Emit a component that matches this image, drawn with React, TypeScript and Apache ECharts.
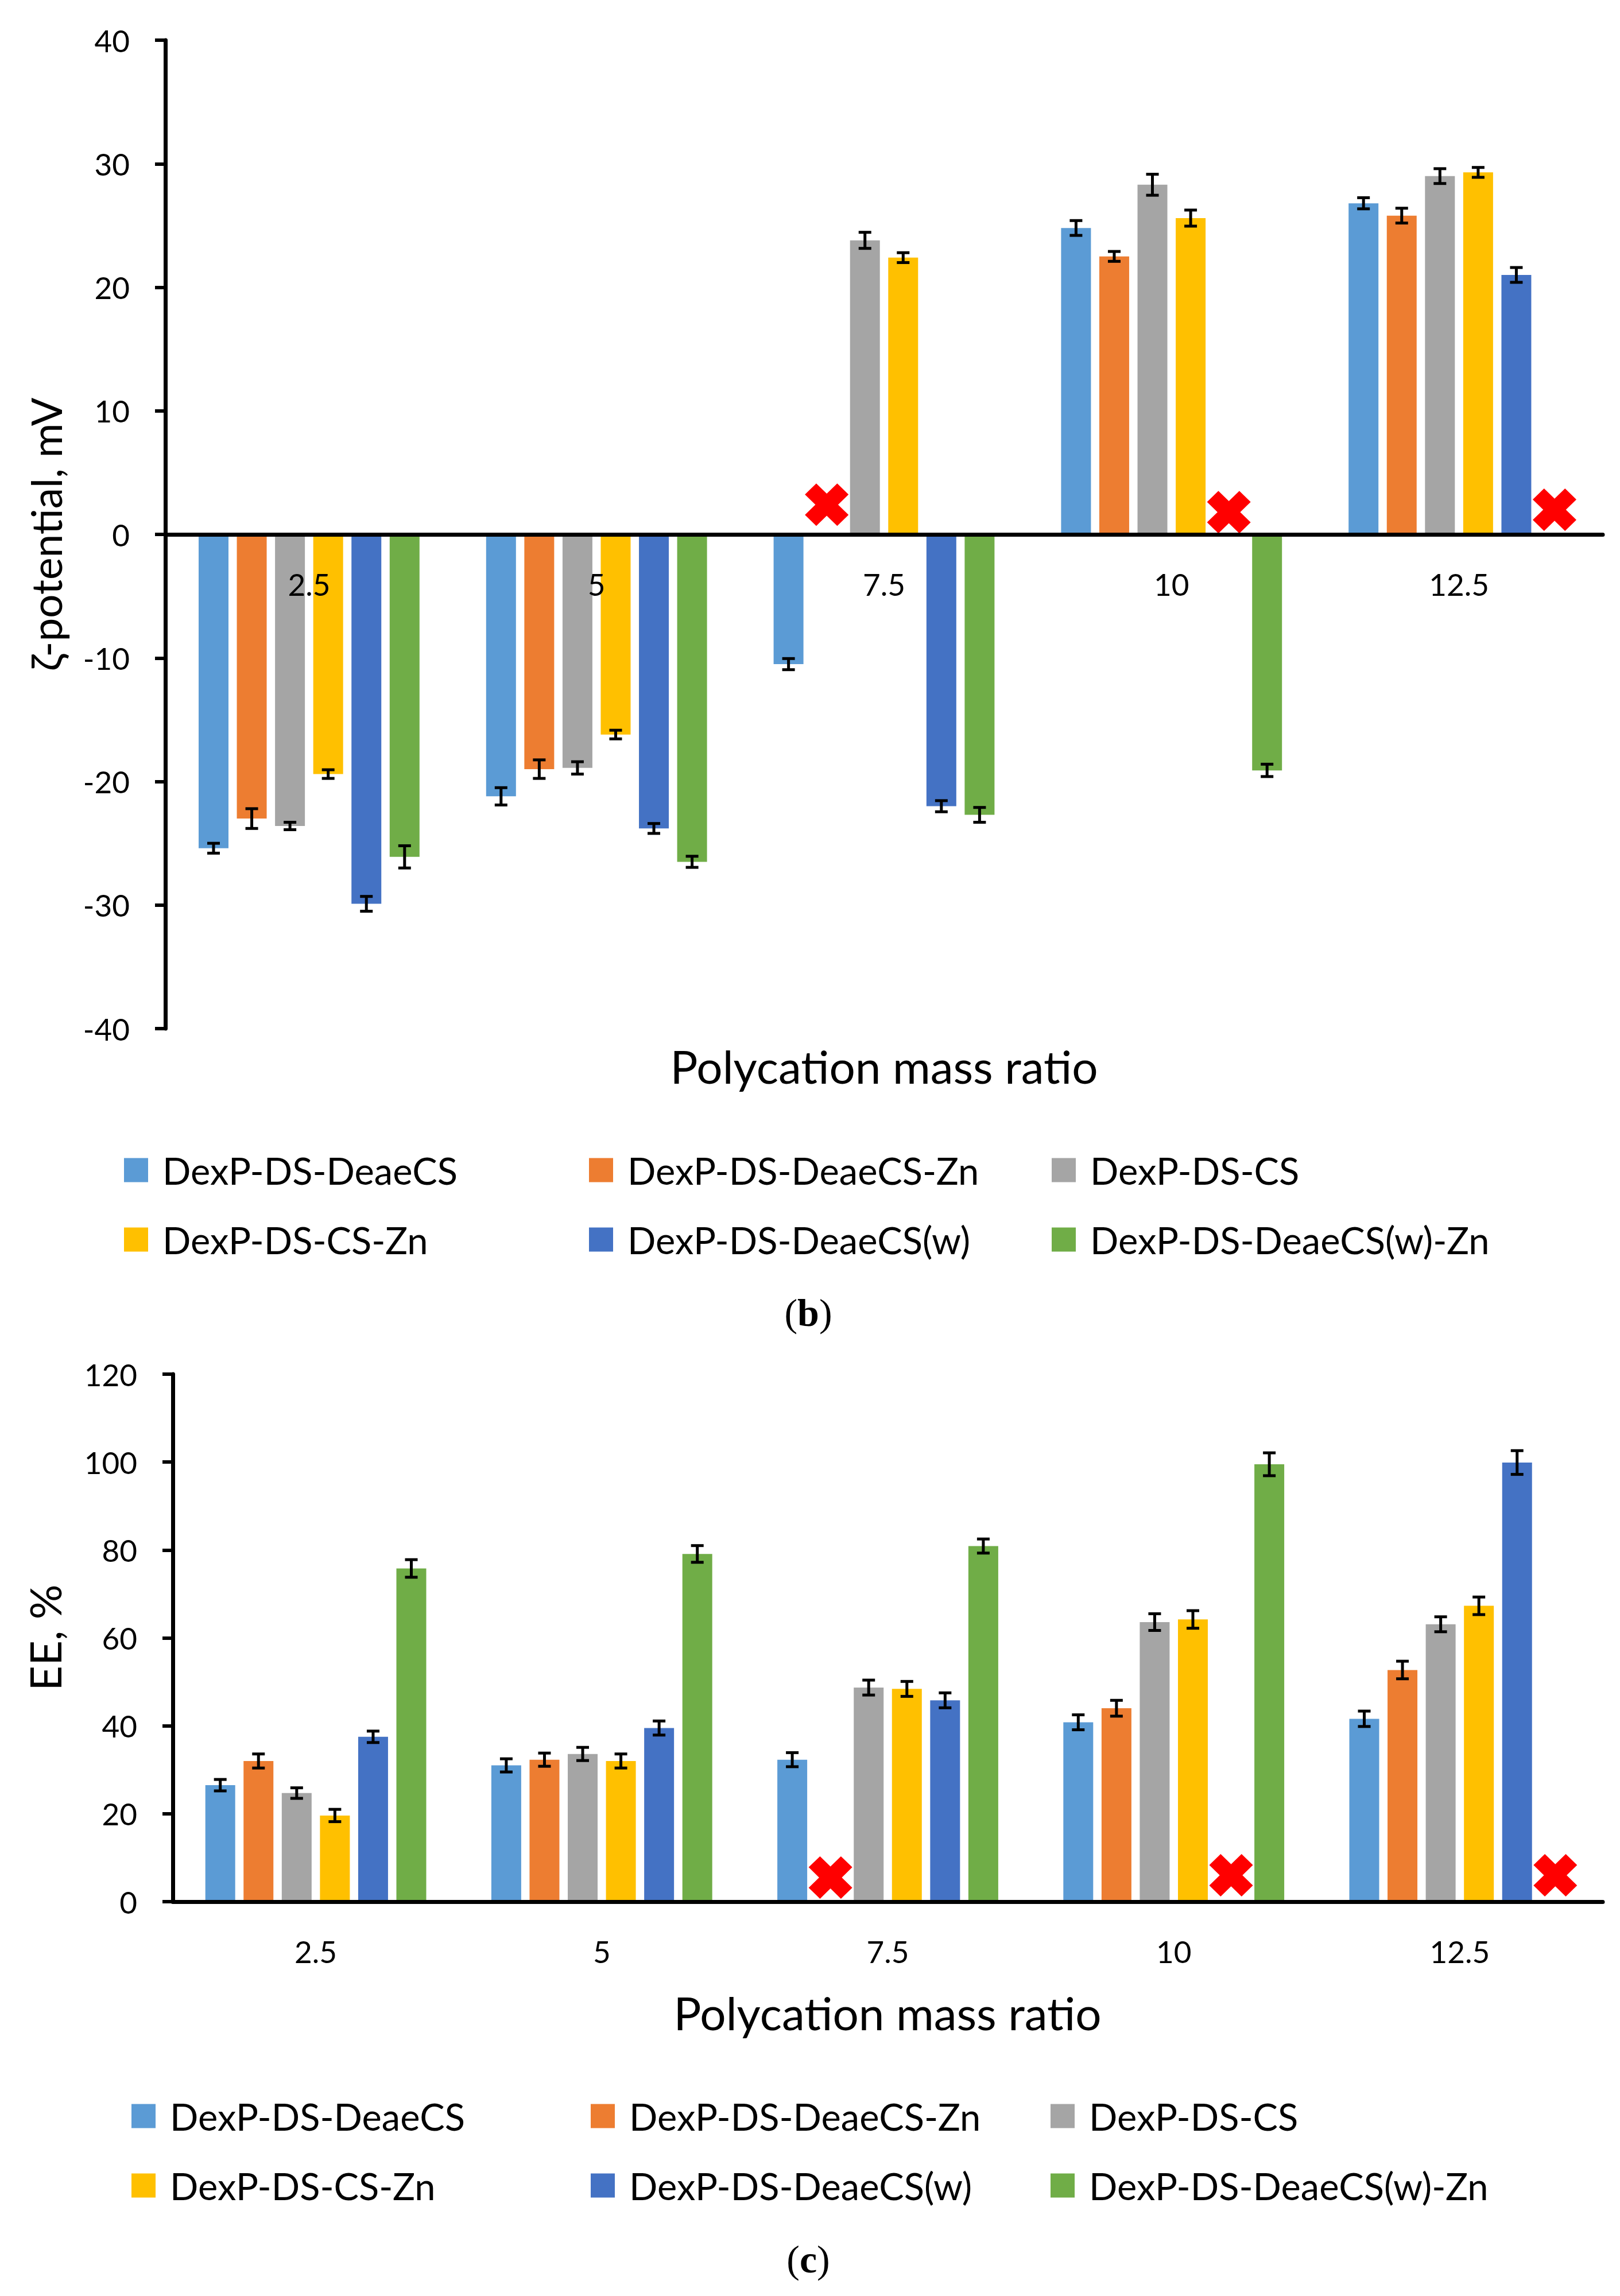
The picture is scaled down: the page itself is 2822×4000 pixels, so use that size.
import React, { useEffect, useRef } from 'react';
import * as echarts from 'echarts';

const categories = ['2.5', '5', '7.5', '10', '12.5'];
const seriesNames = [
  'DexP-DS-DeaeCS',
  'DexP-DS-DeaeCS-Zn',
  'DexP-DS-CS',
  'DexP-DS-CS-Zn',
  'DexP-DS-DeaeCS(w)',
  'DexP-DS-DeaeCS(w)-Zn',
];
const seriesColors = ['#5B9BD5', '#ED7D31', '#A5A5A5', '#FFC000', '#4472C4', '#70AD47'];

// ζ-potential, mV (panel b)
const zetaValues = [
  [-25.4, -21.2, -10.5, 24.8, 26.8],
  [-23.0, -19.0, null, 22.5, 25.8],
  [-23.6, -18.9, 23.8, 28.3, 29.0],
  [-19.4, -16.2, 22.4, 25.6, 29.3],
  [-29.9, -23.8, -22.0, null, 21.0],
  [-26.1, -26.5, -22.7, -19.1, null],
];
const zetaErrors = [
  [0.4, 0.7, 0.45, 0.6, 0.45],
  [0.8, 0.75, null, 0.4, 0.6],
  [0.3, 0.5, 0.65, 0.85, 0.6],
  [0.35, 0.35, 0.4, 0.65, 0.4],
  [0.6, 0.4, 0.45, null, 0.6],
  [0.9, 0.45, 0.6, 0.5, null],
];
// [category index, series index, y of the cross]
const zetaMissing = [
  [2, 1, 2.4],
  [3, 4, 1.8],
  [4, 5, 2.0],
];

// EE, % (panel c)
const eeValues = [
  [26.5, 31.0, 32.3, 40.8, 41.6],
  [32.0, 32.3, null, 44.0, 52.7],
  [24.7, 33.6, 48.7, 63.6, 63.1],
  [19.6, 32.0, 48.4, 64.2, 67.3],
  [37.5, 39.5, 45.8, null, 99.9],
  [75.8, 79.1, 80.9, 99.5, null],
];
const eeErrors = [
  [1.3, 1.5, 1.6, 1.7, 1.75],
  [1.6, 1.5, null, 1.8, 2.0],
  [1.2, 1.5, 1.7, 1.9, 1.7],
  [1.4, 1.6, 1.7, 2.0, 2.0],
  [1.3, 1.6, 1.7, null, 2.7],
  [2.0, 1.9, 1.6, 2.6, null],
];
const eeMissing = [
  [2, 1, 5.5],
  [3, 4, 6.0],
  [4, 5, 6.0],
];

const zetaAxis = { min: -40, max: 40, interval: 10 };
const eeAxis = { min: 0, max: 120, interval: 20 };

const FONT = 'Lato, "Open Sans", "DejaVu Sans", sans-serif';
const SERIF = '"Liberation Serif", "DejaVu Serif", serif';
const BAR_W = 52;
const BAR_GAP = 0.28;
const SLOT = BAR_W * (1 + BAR_GAP);
const CROSS =
  'path://M26 0L50 24L74 0L100 26L76 50L100 74L74 100L50 76L26 100L0 74L24 50L0 26Z';

const GRID_TOP = { left: 288, top: 70, width: 2504, height: 1722 };
const GRID_BOTTOM = { left: 301, top: 2394, width: 2491, height: 919 };

function slotOffset(s: number) {
  return (s - (seriesNames.length - 1) / 2) * SLOT;
}

function buildPanel(
  idx: number,
  values: (number | null)[][],
  errors: (number | null)[][],
  missing: number[][]
) {
  const series: any[] = [];
  seriesNames.forEach((name, s) => {
    series.push({
      type: 'bar',
      name,
      xAxisIndex: idx,
      yAxisIndex: idx,
      barWidth: BAR_W,
      barGap: BAR_GAP * 100 + '%',
      itemStyle: { color: seriesColors[s] },
      data: values[s].map((v) => (v === null ? '-' : v)),
      z: 2,
    });
    const errData: number[][] = [];
    values[s].forEach((v, c) => {
      const e = errors[s][c];
      if (v !== null && e !== null) errData.push([c, v, e]);
    });
    const off = slotOffset(s);
    series.push({
      type: 'custom',
      xAxisIndex: idx,
      yAxisIndex: idx,
      silent: true,
      z: 5,
      renderItem: (params: any, api: any) => {
        const c = api.value(0);
        const v = api.value(1);
        const e = api.value(2);
        const hi = api.coord([c, v + e]);
        const lo = api.coord([c, v - e]);
        const x = hi[0] + off;
        const st = { stroke: '#000', lineWidth: 5 };
        return {
          type: 'group',
          children: [
            { type: 'line', shape: { x1: x, y1: hi[1], x2: x, y2: lo[1] }, style: st },
            { type: 'line', shape: { x1: x - 11, y1: hi[1], x2: x + 11, y2: hi[1] }, style: st },
            { type: 'line', shape: { x1: x - 11, y1: lo[1], x2: x + 11, y2: lo[1] }, style: st },
          ],
        };
      },
      data: errData,
    });
  });
  series.push({
    type: 'scatter',
    xAxisIndex: idx,
    yAxisIndex: idx,
    silent: true,
    z: 6,
    symbol: CROSS,
    symbolSize: [76, 74],
    itemStyle: { color: '#FF0000', opacity: 1 },
    data: missing.map((m) => ({ value: [m[0], m[2]], symbolOffset: [slotOffset(m[1]), 0] })),
  });
  return series;
}

function legendsFor(lefts: number[], tops: number[]) {
  return seriesNames.map((name, s) => ({
    show: true,
    left: lefts[s % 3],
    top: tops[Math.floor(s / 3)],
    padding: 0,
    itemWidth: 42,
    itemHeight: 42,
    icon: 'rect',
    selectedMode: false,
    data: [name],
    textStyle: {
      fontFamily: FONT,
      fontSize: 65,
      color: '#000',
      lineHeight: 42,
      padding: [0, 0, 0, 20],
    },
  }));
}

export default function App() {
  const ref = useRef<HTMLDivElement>(null);
  useEffect(() => {
    if (!ref.current) return;
    const chart = echarts.init(ref.current, null, { renderer: 'svg' });
    const axisLineStyle = { color: '#000', width: 7 };
    const xAxisCommon = {
      type: 'category',
      data: categories,
      boundaryGap: true,
      z: 10,
      axisTick: { show: false },
      axisLabel: { fontFamily: FONT, fontSize: 53, color: '#000', margin: 60 },
      splitLine: { show: false },
    };
    const yAxisCommon = {
      type: 'value',
      axisLine: { show: true, lineStyle: axisLineStyle },
      axisTick: { show: true, length: 18, lineStyle: { color: '#000', width: 6 } },
      axisLabel: { fontFamily: FONT, fontSize: 53, color: '#000', margin: 62 },
      splitLine: { show: false },
    };
    // distance from the bottom of the top grid up to its zero line
    const zeroLift =
      (GRID_TOP.height * (0 - zetaAxis.min)) / (zetaAxis.max - zetaAxis.min);
    const titleStyle = {
      fontFamily: FONT,
      fontSize: 80,
      fill: '#000',
      textAlign: 'center',
      textVerticalAlign: 'middle',
    };
    chart.setOption({
      animation: false,
      backgroundColor: '#fff',
      grid: [
        { ...GRID_TOP, containLabel: false },
        { ...GRID_BOTTOM, containLabel: false },
      ],
      xAxis: [
        {
          ...xAxisCommon,
          gridIndex: 0,
          position: 'bottom',
          offset: -zeroLift,
          axisLine: { show: true, onZero: false, lineStyle: axisLineStyle },
        },
        {
          ...xAxisCommon,
          gridIndex: 1,
          axisLine: { show: true, onZero: true, lineStyle: axisLineStyle },
        },
      ],
      yAxis: [
        { ...yAxisCommon, gridIndex: 0, ...zetaAxis },
        { ...yAxisCommon, gridIndex: 1, ...eeAxis },
      ],
      legend: [
        ...legendsFor([216, 1026, 1832], [2006, 2127]),
        ...legendsFor([229, 1029, 1830], [3654, 3775]),
      ],
      series: [
        ...buildPanel(0, zetaValues, zetaErrors, zetaMissing),
        ...buildPanel(1, eeValues, eeErrors, eeMissing),
      ],
      graphic: [
        { type: 'text', x: 1540, y: 1857, style: { ...titleStyle, text: 'Polycation mass ratio' } },
        { type: 'text', x: 1546, y: 3506, style: { ...titleStyle, text: 'Polycation mass ratio' } },
        {
          type: 'text',
          x: 80,
          y: 931,
          rotation: Math.PI / 2,
          style: { ...titleStyle, fontSize: 73, text: 'ζ-potential, mV' },
        },
        {
          type: 'text',
          x: 77,
          y: 2853,
          rotation: Math.PI / 2,
          style: { ...titleStyle, fontSize: 76, text: 'EE, %' },
        },
        {
          type: 'text',
          x: 1408,
          y: 2287,
          style: {
            text: '({b|b})',
            fontFamily: SERIF,
            fontSize: 68,
            fill: '#000',
            textAlign: 'center',
            textVerticalAlign: 'middle',
            rich: { b: { fontFamily: SERIF, fontSize: 68, fontWeight: 'bold', fill: '#000' } },
          },
        },
        {
          type: 'text',
          x: 1408,
          y: 3936,
          style: {
            text: '({b|c})',
            fontFamily: SERIF,
            fontSize: 68,
            fill: '#000',
            textAlign: 'center',
            textVerticalAlign: 'middle',
            rich: { b: { fontFamily: SERIF, fontSize: 68, fontWeight: 'bold', fill: '#000' } },
          },
        },
      ],
    });
    return () => chart.dispose();
  }, []);
  return (
    <div
      ref={ref}
      style={{ position: 'absolute', left: 0, top: 0, width: 2822, height: 4000, background: '#fff' }}
    />
  );
}
